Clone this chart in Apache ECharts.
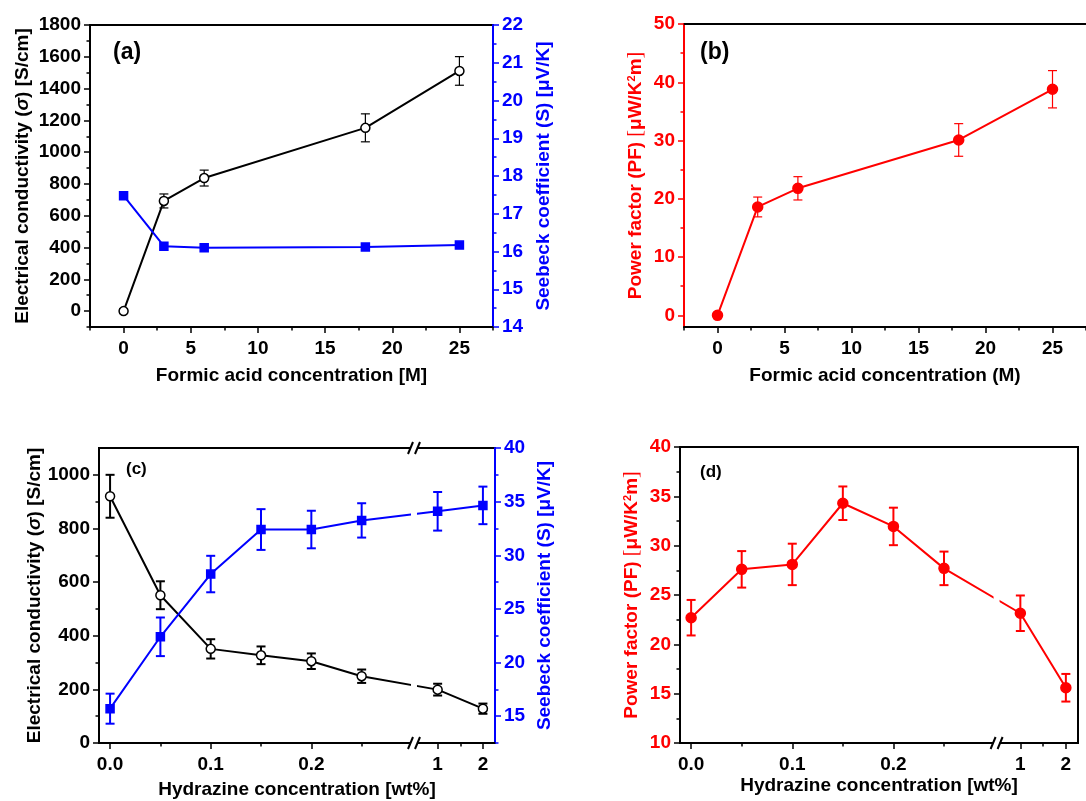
<!DOCTYPE html>
<html>
<head>
<meta charset="utf-8">
<script src="https://cdn.jsdelivr.net/npm/echarts@6.0.0/dist/echarts.min.js"></script>
<style>
  html, body { margin: 0; padding: 0; background: #fff; }
  #chart { width: 1086px; height: 801px; }
</style>
</head>
<body>
<div id="chart"></div>
<script>
// (a), (b): formic acid treatment
const formicConc = [0, 3, 6, 18, 25];
const condFormic = [0, 693, 837, 1153, 1511];
const condFormicErr = [15, 44, 50, 88, 90];
const seebeckFormic = [17.48, 16.14, 16.1, 16.12, 16.17];
const pfFormic = [0, 18.6, 21.8, 30.1, 38.8];
const pfFormicErr = [0, 1.7, 2.0, 2.8, 3.2];

// (c), (d): hydrazine treatment
const hydrazineConc = [0, 0.05, 0.1, 0.15, 0.2, 0.25, 1, 2];
const condHydrazine = [920, 551, 351, 327, 305, 249, 199, 128];
const condHydrazineErr = [80, 52, 36, 33, 29, 25, 22, 19];
const seebeckHydrazine = [15.7, 22.4, 28.25, 32.4, 32.4, 33.25, 34.1, 34.65];
const seebeckHydrazineErr = [1.4, 1.8, 1.7, 1.9, 1.75, 1.6, 1.8, 1.75];
const pfHydrazine = [22.7, 27.6, 28.1, 34.3, 31.95, 27.7, 23.15, 15.6];
const pfHydrazineErr = [1.8, 1.85, 2.1, 1.7, 1.9, 1.7, 1.8, 1.4];

// ticks
const formicTicks = [0, 5, 10, 15, 20, 25];
const formicMinor = [-2.5, 2.5, 7.5, 12.5, 17.5, 22.5, 27.5];
const condFormicTicks = [0, 200, 400, 600, 800, 1000, 1200, 1400, 1600, 1800];
const condFormicMinor = [-100, 100, 300, 500, 700, 900, 1100, 1300, 1500, 1700];
const seebeckFormicTicks = [14, 15, 16, 17, 18, 19, 20, 21, 22];
const seebeckFormicMinor = [14.5, 15.5, 16.5, 17.5, 18.5, 19.5, 20.5, 21.5];
const pfFormicTicks = [0, 10, 20, 30, 40, 50];
const pfFormicMinor = [5, 15, 25, 35, 45];
const hydrazineTicks = [0, 0.1, 0.2, 1, 2];
const hydrazineTickLabels = ['0.0', '0.1', '0.2', '1', '2'];
const hydrazineMinor = [0.05, 0.15, 0.25, 1.5];
const condHydrazineTicks = [0, 200, 400, 600, 800, 1000];
const condHydrazineMinor = [100, 300, 500, 700, 900];
const seebeckHydrazineTicks = [15, 20, 25, 30, 35, 40];
const seebeckHydrazineMinor = [12.5, 17.5, 22.5, 27.5, 32.5, 37.5];
const pfHydrazineTicks = [10, 15, 20, 25, 30, 35, 40];
const pfHydrazineMinor = [12.5, 17.5, 22.5, 27.5, 32.5, 37.5];

const FONT = '"Liberation Sans", Arial, sans-serif';
const BLUE = '#0000ff';
const RED = '#ff0000';

// broken hydrazine axis: 0..0.3 linear, then 1..2 compressed after the break
const BREAK_POS = 0.302;
function hx(x) {
  return x < 0.5 ? x : 0.3255 + (x - 1) * 0.045;
}
function hxLabel(v) {
  const i = hydrazineTicks.findIndex((t) => Math.abs(hx(t) - v) < 1e-6);
  return i >= 0 ? hydrazineTickLabels[i] : '';
}

function axis(o) {
  const c = o.color || '#000';
  const lc = o.lineColor || c;
  return {
    type: 'value',
    gridIndex: o.grid,
    position: o.position,
    min: o.min,
    max: o.max,
    name: o.name,
    nameLocation: 'middle',
    nameGap: o.nameGap,
    nameRotate: o.rotate,
    nameTextStyle: {
      color: c, fontFamily: FONT, fontWeight: 'bold', fontSize: 19, rich: o.rich,
    },
    axisLine: { show: !o.minor, onZero: false, lineStyle: { color: lc, width: 2 } },
    axisTick: {
      show: !o.bare, customValues: o.ticks, length: o.minor ? 3.5 : 6,
      lineStyle: { color: lc, width: 1.5 },
    },
    axisLabel: {
      show: !o.minor && !o.bare, customValues: o.ticks,
      margin: o.position === 'bottom' ? 12 : 9,
      formatter: o.formatter || ((v) => String(v)),
      color: c, fontFamily: FONT, fontWeight: 'bold', fontSize: 19,
    },
    splitLine: { show: false },
  };
}

function richName(color) {
  return {
    n: { color: color, fontFamily: FONT, fontWeight: 'bold', fontSize: 19 },
    i: { color: color, fontFamily: FONT, fontWeight: 'bold', fontStyle: 'italic', fontSize: 19 },
    b: { color: color, fontFamily: '"Liberation Serif", serif', fontWeight: 'normal', fontSize: 20 },
    s: { color: color, fontFamily: FONT, fontWeight: 'bold', fontSize: 11, verticalAlign: 'top' },
  };
}

function lineSeries(xi, yi, xs, ys, color, symbol, filled, size, width) {
  return {
    type: 'line', xAxisIndex: xi, yAxisIndex: yi,
    data: xs.map((x, i) => [x, ys[i]]),
    symbol: symbol, symbolSize: size, showSymbol: true,
    lineStyle: { color: color, width: width },
    itemStyle: { color: filled ? color : '#fff', borderColor: color, borderWidth: 1.5 },
    z: 3,
  };
}

function errSeries(xi, yi, xs, ys, es, color, width) {
  return {
    type: 'custom', xAxisIndex: xi, yAxisIndex: yi, silent: true, z: 2,
    data: xs.map((x, i) => [x, ys[i], es[i]]),
    encode: { x: 0, y: 1 },
    renderItem: function (params, api) {
      const x = api.value(0), y = api.value(1), e = api.value(2);
      const hi = api.coord([x, y + e]);
      const lo = api.coord([x, y - e]);
      const s = { stroke: color, lineWidth: width };
      return {
        type: 'group',
        children: [
          { type: 'line', shape: { x1: hi[0], y1: hi[1], x2: lo[0], y2: lo[1] }, style: s },
          { type: 'line', shape: { x1: hi[0] - 4.5, y1: hi[1], x2: hi[0] + 4.5, y2: hi[1] }, style: s },
          { type: 'line', shape: { x1: lo[0] - 4.5, y1: lo[1], x2: lo[0] + 4.5, y2: lo[1] }, style: s },
        ],
      };
    },
  };
}

const gridBox = { show: true, borderColor: '#000', borderWidth: 2, backgroundColor: 'transparent' };
const hConc = hydrazineConc.map(hx);
const hx0 = -0.011, hx1 = 0.3825;

const option = {
  animation: false,
  backgroundColor: '#fff',
  title: [
    { text: '(a)', left: 113, top: 41 },
    { text: '(b)', left: 700, top: 41 },
    { text: '(c)', left: 126, top: 461, textStyle: { fontSize: 17 } },
    { text: '(d)', left: 700, top: 464, textStyle: { fontSize: 17 } },
  ].map((t) => ({
    text: t.text, left: t.left, top: t.top, padding: 0,
    textStyle: Object.assign({ fontFamily: FONT, fontWeight: 'bold', fontSize: 23, color: '#000' }, t.textStyle),
  })),
  grid: [
    Object.assign({ left: 90, right: 593, top: 25, bottom: 474 }, gridBox),
    // (b) runs off the right edge of the picture: no frame, top line drawn by an axis
    { left: 684, right: 0, top: 24, bottom: 474 },
    Object.assign({ left: 99, right: 591, top: 448, bottom: 58 }, gridBox),
    Object.assign({ left: 680, right: 8, top: 447, bottom: 58 }, gridBox),
  ],
  xAxis: [
    axis({ grid: 0, position: 'bottom', min: -2.5, max: 27.5, ticks: formicTicks,
      name: 'Formic acid concentration [M]', nameGap: 39 }),
    axis({ grid: 0, position: 'bottom', min: -2.5, max: 27.5, ticks: formicMinor, minor: true }),
    axis({ grid: 1, position: 'bottom', min: -2.5, max: 27.5, ticks: formicTicks,
      name: 'Formic acid concentration (M)', nameGap: 39 }),
    axis({ grid: 1, position: 'bottom', min: -2.5, max: 27.5, ticks: formicMinor, minor: true }),
    axis({ grid: 2, position: 'bottom', min: hx0, max: hx1, ticks: hydrazineTicks.map(hx),
      formatter: hxLabel, name: 'Hydrazine concentration [wt%]', nameGap: 37 }),
    axis({ grid: 2, position: 'bottom', min: hx0, max: hx1, ticks: hydrazineMinor.map(hx), minor: true }),
    axis({ grid: 3, position: 'bottom', min: hx0, max: hx1, ticks: hydrazineTicks.map(hx),
      formatter: hxLabel, name: 'Hydrazine concentration [wt%]', nameGap: 33 }),
    axis({ grid: 3, position: 'bottom', min: hx0, max: hx1, ticks: hydrazineMinor.map(hx), minor: true }),
    axis({ grid: 1, position: 'top', min: -2.5, max: 27.5, bare: true }),
  ],
  yAxis: [
    axis({ grid: 0, position: 'left', min: -100, max: 1800, ticks: condFormicTicks,
      name: '{n|Electrical conductivity (}{i|σ}{n|) [S/cm]}', rich: richName('#000'), nameGap: 58, rotate: 90 }),
    axis({ grid: 0, position: 'left', min: -100, max: 1800, ticks: condFormicMinor, minor: true }),
    axis({ grid: 0, position: 'right', min: 14, max: 22, ticks: seebeckFormicTicks, color: BLUE,
      name: 'Seebeck coefficient (S) [μV/K]', nameGap: 41, rotate: 90 }),
    axis({ grid: 0, position: 'right', min: 14, max: 22, ticks: seebeckFormicMinor, color: BLUE, minor: true }),
    axis({ grid: 1, position: 'left', min: -2, max: 50, ticks: pfFormicTicks, color: RED,
      name: '{n|Power factor (PF) }{b|[}{n|μW/K}{s|2}{n|m}{b|]}', rich: richName(RED), nameGap: 38, rotate: 90 }),
    axis({ grid: 1, position: 'left', min: -2, max: 50, ticks: pfFormicMinor, color: RED, minor: true }),
    axis({ grid: 2, position: 'left', min: 0, max: 1100, ticks: condHydrazineTicks,
      name: '{n|Electrical conductivity (}{i|σ}{n|) [S/cm]}', rich: richName('#000'), nameGap: 52, rotate: 90 }),
    axis({ grid: 2, position: 'left', min: 0, max: 1100, ticks: condHydrazineMinor, minor: true }),
    axis({ grid: 2, position: 'right', min: 12.5, max: 40, ticks: seebeckHydrazineTicks, color: BLUE,
      name: 'Seebeck coefficient (S) [μV/K]', nameGap: 40, rotate: 90 }),
    axis({ grid: 2, position: 'right', min: 12.5, max: 40, ticks: seebeckHydrazineMinor, color: BLUE, minor: true }),
    axis({ grid: 3, position: 'left', min: 10, max: 40, ticks: pfHydrazineTicks, color: RED, lineColor: '#000',
      name: '{n|Power factor (PF) }{b|[}{n|μW/K}{s|2}{n|m}{b|]}', rich: richName(RED), nameGap: 38, rotate: 90 }),
    axis({ grid: 3, position: 'left', min: 10, max: 40, ticks: pfHydrazineMinor, lineColor: '#000', minor: true }),
  ],
  series: [
    errSeries(0, 0, formicConc, condFormic, condFormicErr, '#000', 1.2),
    lineSeries(0, 0, formicConc, condFormic, '#000', 'circle', false, 9, 2),
    lineSeries(0, 2, formicConc, seebeckFormic, BLUE, 'rect', true, 8, 2),

    errSeries(2, 4, formicConc, pfFormic, pfFormicErr, RED, 1.2),
    lineSeries(2, 4, formicConc, pfFormic, RED, 'circle', true, 10, 2),

    errSeries(4, 6, hConc, condHydrazine, condHydrazineErr, '#000', 2),
    lineSeries(4, 6, hConc, condHydrazine, '#000', 'circle', false, 9, 2),
    errSeries(4, 8, hConc, seebeckHydrazine, seebeckHydrazineErr, BLUE, 2),
    lineSeries(4, 8, hConc, seebeckHydrazine, BLUE, 'rect', true, 8, 2),

    errSeries(6, 10, hConc, pfHydrazine, pfHydrazineErr, RED, 2),
    lineSeries(6, 10, hConc, pfHydrazine, RED, 'circle', true, 10, 2),
  ],
};

const chart = echarts.init(document.getElementById('chart'));
chart.setOption(option);

// axis break marks "//" and the gap they leave in axes and lines
function breakMarks(xAxisIndex, top, bottom, breakTop) {
  const bx = chart.convertToPixel({ xAxisIndex: xAxisIndex }, BREAK_POS);
  const els = [{
    type: 'rect', z: 100,
    shape: { x: bx - 3, y: breakTop ? top - 3 : top + 2, width: 6, height: bottom - top + (breakTop ? 6 : 1) + 2 },
    style: { fill: '#fff' },
  }];
  const ys = breakTop ? [top, bottom] : [bottom];
  ys.forEach((y) => {
    [-3.5, 3.5].forEach((dx) => {
      els.push({
        type: 'line', z: 101,
        shape: { x1: bx + dx - 2.5, y1: y + 6, x2: bx + dx + 2.5, y2: y - 6 },
        style: { stroke: '#000', lineWidth: 2 },
      });
    });
  });
  return els;
}

chart.setOption({
  graphic: breakMarks(4, 448, 743, true).concat(breakMarks(6, 447, 743, false)),
});
</script>
</body>
</html>
